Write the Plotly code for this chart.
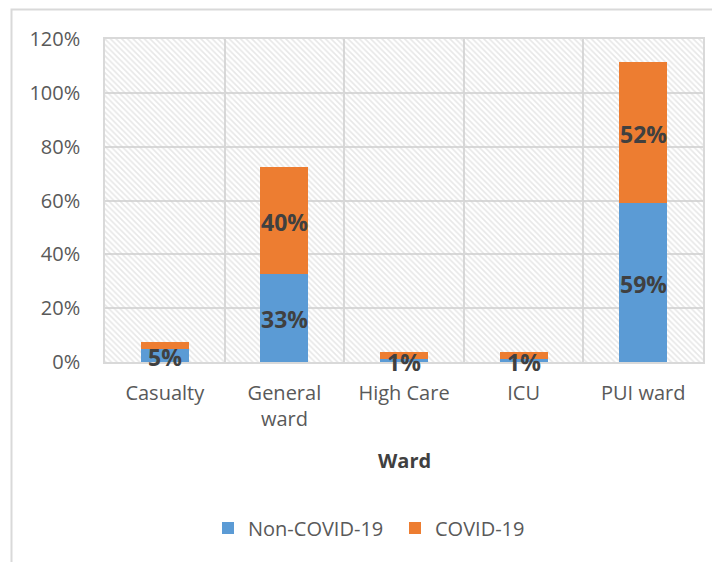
import plotly.graph_objects as go

wards = ["Casualty", "General<br>ward", "High Care", "ICU", "PUI ward"]
non_covid = [0.048, 0.327, 0.010, 0.011, 0.591]
covid = [0.026, 0.397, 0.027, 0.028, 0.524]
non_covid_labels = ["5%", "33%", "1%", "1%", "59%"]
covid_labels = ["", "40%", "", "", "52%"]
y_ticks = [0, 0.2, 0.4, 0.6, 0.8, 1.0, 1.2]

BLUE = "#5b9bd5"
ORANGE = "#ed7d31"
GRID = "#d9d9d9"
TXT = "#595959"
LBL = "#404040"
FONT = "Open Sans"

# figure sizing (page body adds an 8px offset)
W, H = 712, 554
ML, MR, MT, MB = 97, 17, 31, 200
PW = W - ML - MR
PH = H - MT - MB


def px(xfig):
    return (xfig - ML) / PW


def py(yfig):
    return (H - MB - yfig) / PH


fig = go.Figure()

# hatched plot-area background on hidden base axes
fig.add_trace(go.Scatter(
    x=[0, 1, 1, 0, 0], y=[0, 0, 1, 1, 0], xaxis="x", yaxis="y",
    mode="lines", line=dict(width=0), fill="toself",
    fillcolor="rgba(0,0,0,0)",
    fillpattern=dict(shape="\\", fgcolor="#cfcfcf", bgcolor="rgba(0,0,0,0)",
                     size=4, solidity=0.4),
    hoverinfo="skip", showlegend=False,
))

fig.add_trace(go.Bar(
    x=wards, y=non_covid, name="Non-COVID-19", xaxis="x2", yaxis="y2",
    marker=dict(color=BLUE, line=dict(width=0)), width=0.4, hoverinfo="skip",
))
fig.add_trace(go.Bar(
    x=wards, y=covid, name="COVID-19", xaxis="x2", yaxis="y2",
    marker=dict(color=ORANGE, line=dict(width=0)), width=0.4, hoverinfo="skip",
))

# data labels centred in each segment
non_mid = [v / 2 for v in non_covid]
cov_mid = [a + b / 2 for a, b in zip(non_covid, covid)]
annotations = []
for mids, labels in ((non_mid, non_covid_labels), (cov_mid, covid_labels)):
    for w, m, t in zip(wards, mids, labels):
        if t:
            annotations.append(dict(
                text=t, x=w, y=m, xref="x2", yref="y2", showarrow=False,
                xanchor="center", yanchor="middle", yshift=-1.5,
                font=dict(family=FONT, size=23, color=LBL, weight="bold"),
            ))

annotations.append(dict(text="<b>Ward</b>", xref="paper", yref="paper", x=0.5, y=py(452),
                        xanchor="center", yanchor="middle", showarrow=False,
                        font=dict(family=FONT, size=20, color=LBL)))

fig.update_layout(
    width=W, height=H,
    margin=dict(l=ML, r=MR, t=MT, b=MB),
    paper_bgcolor="white", plot_bgcolor="white",
    barmode="stack",
    font=dict(family=FONT, size=20, color=TXT),
    xaxis=dict(range=[0, 1], visible=False, showgrid=False, zeroline=False, fixedrange=True),
    yaxis=dict(range=[0, 1], visible=False, showgrid=False, zeroline=False, fixedrange=True),
    xaxis2=dict(overlaying="x", type="category", tickson="boundaries",
                showgrid=True, gridcolor=GRID, gridwidth=1.5,
                showline=True, linecolor=GRID, linewidth=1.5, mirror=True,
                ticks="", ticklabelstandoff=12,
                tickfont=dict(family=FONT, size=20, color=TXT)),
    yaxis2=dict(overlaying="y", range=[0, 1.2], tickvals=y_ticks, tickformat=".0%",
                showgrid=True, gridcolor=GRID, gridwidth=1.5,
                showline=True, linecolor=GRID, linewidth=1.5, mirror=True,
                zeroline=False, ticks="", ticklabelstandoff=19,
                tickfont=dict(family=FONT, size=20, color=TXT)),
    legend=dict(orientation="h", x=px(200), xanchor="left", y=py(520), yanchor="middle",
                font=dict(family=FONT, size=20, color=TXT),
                itemwidth=30, entrywidth=142, entrywidthmode="pixels",
                bgcolor="rgba(0,0,0,0)", traceorder="normal"),
    annotations=annotations,
    shapes=[dict(type="rect", xref="paper", yref="paper",
                 x0=px(3.5), x1=px(740), y0=py(600), y1=py(1.5),
                 line=dict(color=GRID, width=2), fillcolor="rgba(0,0,0,0)", layer="below")],
)

fig.write_html("out.html")
